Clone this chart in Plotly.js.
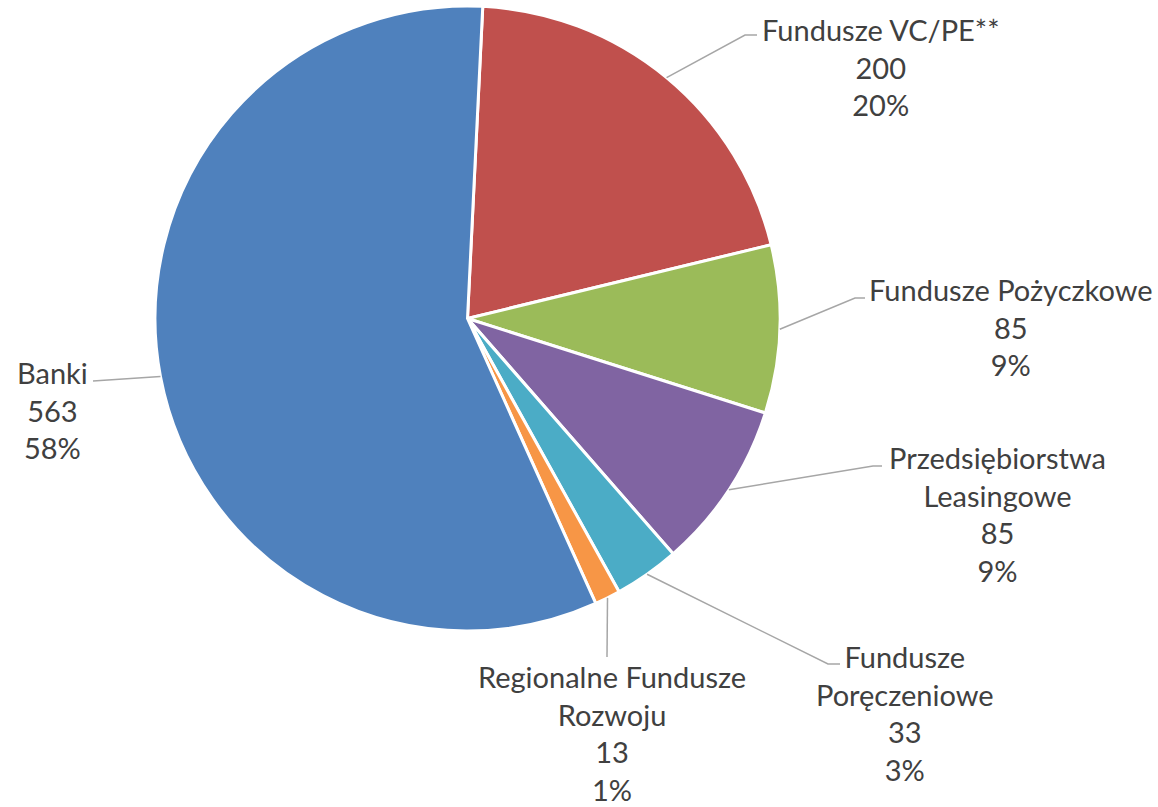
<!DOCTYPE html>
<html>
<head>
<meta charset="utf-8">
<script src="https://cdn.plot.ly/plotly-3.0.1.min.js"></script>
<style>html,body{margin:0;padding:0;background:#fff;}#chart{width:1158px;height:807px;}</style>
</head>
<body>
<div id="chart"></div>
<script>
// ---- data ----
var categories = ["Fundusze VC/PE**", "Fundusze Pożyczkowe", "Przedsiębiorstwa Leasingowe", "Fundusze Poręczeniowe", "Regionalne Fundusze Rozwoju", "Banki"];
var labelLines = ["Fundusze VC/PE**", "Fundusze Pożyczkowe", "Przedsiębiorstwa<br>Leasingowe", "Fundusze<br>Poręczeniowe", "Regionalne Fundusze<br>Rozwoju", "Banki"];
var values = [200, 85, 85, 33, 13, 563];
var percentLabels = ["20%", "9%", "9%", "3%", "1%", "58%"];
var colors = ["#c0504d", "#9bbb59", "#8064a2", "#4bacc6", "#f79646", "#4f81bd"];

// ---- layout geometry (pixels) ----
var W = 1158, H = 807;
var cx = 467.5, cy = 318.5, R = 312.5;
var rotation = 2.8;
// label block centres and leader-line bend points (layout only)
var labelPos = [[881, 67], [1011, 327], [997, 514], [905, 713], [612, 733], [52, 410]];
var bends = [
  [[745, 35], [757, 35]],
  [[855, 298], [865, 298]],
  [[873, 466], [882, 466]],
  [[828, 664], [840, 664]],
  [[607, 657]],
  [[93, 381]]
];

function px(x) { return x / W; }
function py(y) { return 1 - y / H; }

var total = values.reduce(function (a, b) { return a + b; }, 0);
var shapes = [], annotations = [];
var acc = 0;
for (var i = 0; i < values.length; i++) {
  var mid = (rotation + (acc + values[i] / 2) / total * 360) * Math.PI / 180;
  acc += values[i];
  var ex = cx + R * Math.sin(mid), ey = cy - R * Math.cos(mid);
  var path = "M" + px(ex) + "," + py(ey);
  bends[i].forEach(function (p) { path += " L" + px(p[0]) + "," + py(p[1]); });
  shapes.push({type: "path", xref: "paper", yref: "paper", path: path,
    line: {color: "#a6a6a6", width: 1.5}});
  annotations.push({
    xref: "paper", yref: "paper", x: px(labelPos[i][0]), y: py(labelPos[i][1]),
    xanchor: "center", yanchor: "middle", showarrow: false, align: "center",
    text: labelLines[i] + "<br>" + values[i] + "<br>" + percentLabels[i],
    font: {family: "Lato, 'Open Sans', sans-serif", size: 29, color: "#404040"}
  });
}

var trace = {
  type: "pie",
  labels: categories,
  values: values,
  sort: false,
  direction: "clockwise",
  rotation: rotation,
  marker: {colors: colors, line: {color: "#ffffff", width: 3}},
  textinfo: "none",
  hoverinfo: "label+value+percent",
  domain: {x: [px(cx - R), px(cx + R)], y: [py(cy + R), py(cy - R)]},
  showlegend: false
};

var layout = {
  width: W, height: H,
  margin: {l: 0, r: 0, t: 0, b: 0},
  paper_bgcolor: "#ffffff",
  showlegend: false,
  shapes: shapes,
  annotations: annotations
};

Plotly.newPlot("chart", [trace], layout, {displayModeBar: false, staticPlot: true});
</script>
</body>
</html>
